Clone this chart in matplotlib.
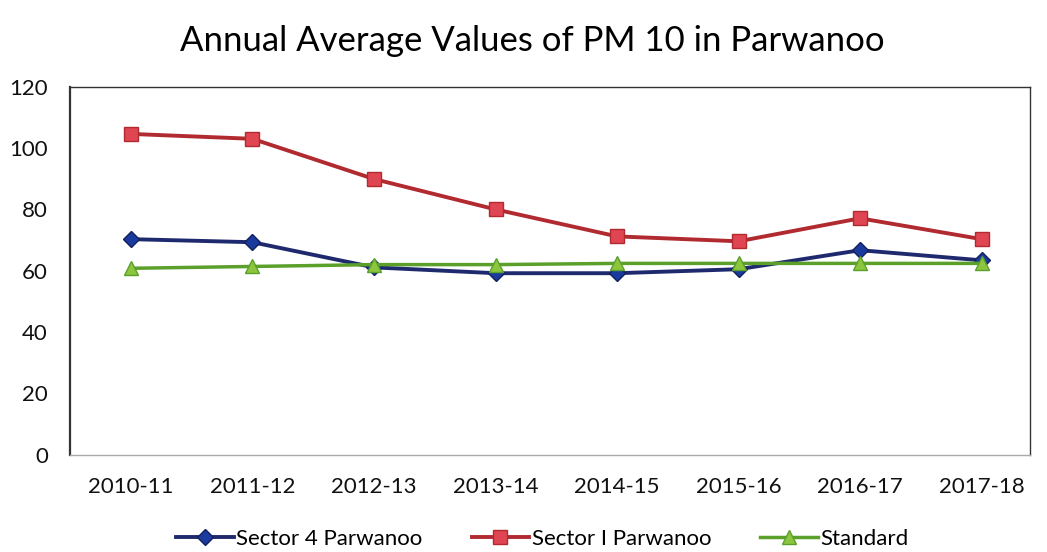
import matplotlib
matplotlib.use('Agg')
import matplotlib.pyplot as plt

years = ['2010-11', '2011-12', '2012-13', '2013-14', '2014-15', '2015-16', '2016-17', '2017-18']
sector4 = [70.3, 69.3, 61.1, 59.2, 59.2, 60.5, 66.7, 63.4]
sector1 = [104.6, 103.0, 89.9, 80.0, 71.2, 69.6, 77.1, 70.3]
standard = [60.8, 61.4, 62.0, 62.0, 62.4, 62.4, 62.4, 62.4]

plt.rcParams['font.family'] = ['Lato', 'DejaVu Sans']

fig = plt.figure(figsize=(10.47, 5.52), dpi=100)
ax = fig.add_axes([0.067, 0.176, 0.917, 0.667])

x = list(range(len(years)))
ax.plot(x, sector4, color='#1f2a6e', lw=2.8, marker='D', ms=8,
        markerfacecolor='#1a3a9e', markeredgecolor='#12205e', label='Sector 4 Parwanoo')
ax.plot(x, sector1, color='#b02a30', lw=2.8, marker='s', ms=10,
        markerfacecolor='#e04552', markeredgecolor='#b02a30', label='Sector I Parwanoo')
ax.plot(x, standard, color='#5aa02a', lw=2.5, marker='^', ms=10,
        markerfacecolor='#8cc63f', markeredgecolor='#5aa02a', label='Standard')

ax.set_xlim(-0.5, 7.4)
ax.set_ylim(0, 120)
ax.set_yticks(range(0, 121, 20))
ax.set_xticks(x)
ax.set_xticklabels(years)
ax.tick_params(axis='both', length=0, labelsize=16, colors='#111111', pad=16)
ax.tick_params(axis='y', pad=16)
for s in ax.spines.values():
    s.set_color('#333333')
    s.set_linewidth(1.0)
ax.spines['left'].set_linewidth(1.6)
ax.spines['bottom'].set_color('#aaaaaa')

fig.suptitle('Annual Average Values of PM 10 in Parwanoo', fontsize=25, y=0.955, x=0.508)

fig.legend(loc='lower center', ncol=3, frameon=False, fontsize=16,
           bbox_to_anchor=(0.518, -0.03), handlelength=2.6, columnspacing=2.2,
           handletextpad=0.1)

fig.savefig('out.png', dpi=100)
